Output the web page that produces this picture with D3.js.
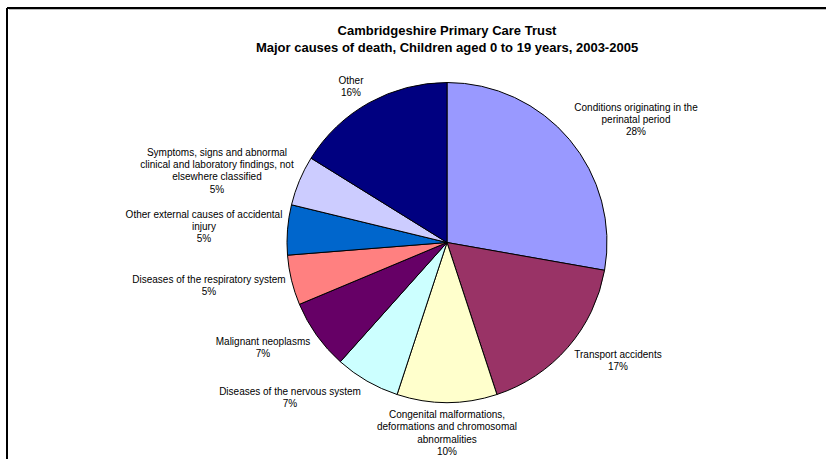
<!DOCTYPE html>
<html>
<head>
<meta charset="utf-8">
<script src="https://cdn.jsdelivr.net/npm/d3@7"></script>
<style>
  html, body { margin: 0; padding: 0; background: #fff; }
  svg { display: block; }
</style>
</head>
<body>
<svg id="chart" width="826" height="459"></svg>
<script>
// ---- Data ----
const categories = [
  "Conditions originating in the perinatal period",
  "Transport accidents",
  "Congenital malformations, deformations and chromosomal abnormalities",
  "Diseases of the nervous system",
  "Malignant neoplasms",
  "Diseases of the respiratory system",
  "Other external causes of accidental injury",
  "Symptoms, signs and abnormal clinical and laboratory findings, not elsewhere classified",
  "Other"
];
const values = [55, 34, 20, 13, 14, 10, 10, 10, 32];
const labelLines = [
  ["Conditions originating in the", "perinatal period"],
  ["Transport accidents"],
  ["Congenital malformations,", "deformations and chromosomal", "abnormalities"],
  ["Diseases of the nervous system"],
  ["Malignant neoplasms"],
  ["Diseases of the respiratory system"],
  ["Other external causes of accidental", "injury"],
  ["Symptoms, signs and abnormal", "clinical and laboratory findings, not", "elsewhere classified"],
  ["Other"]
];
const titleLines = [
  "Cambridgeshire Primary Care Trust",
  "Major causes of death, Children aged 0 to 19 years, 2003-2005"
];

// ---- Styles / layout ----
const colors = ["#9999FF", "#993366", "#FFFFCC", "#CCFFFF", "#660066",
                "#FF8080", "#0066CC", "#CCCCFF", "#000080"];
const cx = 447, cy = 242.5, radius = 160;
// label block centres (x, centre of first line y)
const labelLayout = [
  [636, 107], [618, 354], [447, 414.5], [290, 391], [263, 341],
  [209, 279], [204, 214], [217, 152], [351, 80]
];
const lineH = 12.4;

const svg = d3.select("#chart");
const font = "'Liberation Sans', Arial, sans-serif";

// frame
svg.append("line").attr("x1", 7).attr("y1", 8).attr("x2", 826).attr("y2", 8)
  .attr("stroke", "#000").attr("stroke-width", 2);
svg.append("line").attr("x1", 7).attr("y1", 8).attr("x2", 7).attr("y2", 459)
  .attr("stroke", "#000").attr("stroke-width", 2);
svg.append("line").attr("x1", 9).attr("y1", 9.5).attr("x2", 826).attr("y2", 9.5)
  .attr("stroke", "#bbb").attr("stroke-width", 1);

// title
svg.append("g").selectAll("text").data(titleLines).join("text")
  .attr("x", cx).attr("y", (d, i) => 35 + i * 17)
  .attr("text-anchor", "middle")
  .attr("font-family", font).attr("font-weight", "bold").attr("font-size", 13)
  .attr("fill", "#000")
  .text(d => d);

// pie
const total = d3.sum(values);
const pie = d3.pie().sort(null).value(d => d).startAngle(0).endAngle(2 * Math.PI);
const arcs = pie(values);
const arc = d3.arc().innerRadius(0).outerRadius(radius);

const g = svg.append("g").attr("transform", `translate(${cx},${cy})`);
g.selectAll("path").data(arcs).join("path")
  .attr("d", arc)
  .attr("fill", (d, i) => colors[i])
  .attr("stroke", "#000").attr("stroke-width", 1).attr("stroke-linejoin", "round");

// labels
const pct = d3.format(".0%");
const lg = svg.append("g");
arcs.forEach((a, i) => {
  const lines = labelLines[i].concat([pct(values[i] / total)]);
  const [lx, ly] = labelLayout[i];
  const t = lg.append("text")
    .attr("font-family", font).attr("font-size", 10).attr("fill", "#000")
    .attr("text-anchor", "middle");
  lines.forEach((s, k) => {
    t.append("tspan").attr("x", lx).attr("y", ly + k * lineH + 3.5).text(s);
  });
});
</script>
</body>
</html>
